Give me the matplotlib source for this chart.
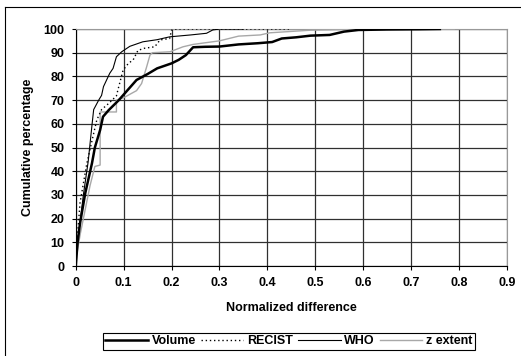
import matplotlib
matplotlib.use("Agg")
import matplotlib.pyplot as plt
from matplotlib.lines import Line2D

plt.rcParams['font.family'] = ['Liberation Sans', 'DejaVu Sans']
plt.rcParams['font.weight'] = 'bold'
plt.rcParams['font.size'] = 9

# cumulative curves
volume_x = [0, 0.002, 0.004, 0.009, 0.02, 0.034, 0.04, 0.051, 0.057, 0.069, 0.09, 0.103,
            0.127, 0.15, 0.17, 0.2, 0.215, 0.23, 0.245, 0.27, 0.3, 0.34, 0.38, 0.41,
            0.43, 0.46, 0.49, 0.53, 0.56, 0.59, 0.65, 0.72, 0.76]
volume_y = [0, 5, 10, 18, 30.8, 43.4, 50, 57.4, 63, 65.8, 70, 73,
            78.5, 81, 83.4, 85.5, 87, 89, 92.3, 92.5, 92.6, 93.5, 94, 94.5,
            96, 96.5, 97.2, 97.5, 98.9, 99.6, 99.8, 99.9, 100]

recist_x = [0, 0.002, 0.005, 0.009, 0.023, 0.033, 0.044, 0.054, 0.07, 0.085, 0.089, 0.099,
            0.11, 0.12, 0.13, 0.144, 0.165, 0.176, 0.196, 0.2, 0.21, 0.45]
recist_y = [0, 8, 16, 26.6, 43, 52, 61.6, 66, 68.8, 71.8, 75, 82.7,
            85.5, 87, 91, 91.9, 92.5, 95.4, 96, 99.5, 100, 100]

who_x = [0, 0.002, 0.005, 0.01, 0.016, 0.026, 0.034, 0.0375, 0.048, 0.054, 0.058, 0.071,
         0.078, 0.085, 0.096, 0.113, 0.14, 0.17, 0.196, 0.24, 0.273, 0.286, 0.3, 0.35]
who_y = [0, 6, 12, 20, 30, 44, 59.5, 66, 70, 72, 75.7, 81.3,
         83.4, 88.3, 90.4, 92.7, 94.6, 95.5, 96.7, 97.5, 98.2, 99.6, 100, 100]

zext_x = [0, 0.003, 0.01, 0.02, 0.03, 0.04, 0.051, 0.051, 0.085, 0.085, 0.1, 0.127, 0.1375,
          0.148, 0.155, 0.16, 0.197, 0.224, 0.245, 0.3, 0.34, 0.385, 0.405, 0.49, 0.59, 0.79]
zext_y = [0, 6, 14, 24, 34, 42, 42.6, 65, 65, 70, 71, 74, 77,
          84, 89, 90, 90.4, 92.5, 93.5, 95, 97, 97.5, 98.4, 99.5, 99.9, 100]

x_ticks = [0, 0.1, 0.2, 0.3, 0.4, 0.5, 0.6, 0.7, 0.8, 0.9]
x_labels = ['0', '0.1', '0.2', '0.3', '0.4', '0.5', '0.6', '0.7', '0.8', '0.9']
y_ticks = list(range(0, 101, 10))

fig = plt.figure(figsize=(5.21, 3.56), dpi=100)
ax = fig.add_axes([0.1453, 0.2528, 0.8277, 0.6657])

ax.plot(zext_x, zext_y, color='#a8a8a8', lw=1.0, label='z extent', zorder=3)
ax.plot(who_x, who_y, color='black', lw=0.8, label='WHO', zorder=4)
ax.plot(recist_x, recist_y, color='black', lw=1.0, ls=(0, (1, 2)), label='RECIST', zorder=5)
ax.plot(volume_x, volume_y, color='black', lw=1.8, label='Volume', zorder=6)

ax.set_xlim(0, 0.9)
ax.set_ylim(0, 100)
ax.set_xticks(x_ticks)
ax.set_xticklabels(x_labels, fontweight='bold')
ax.set_yticks(y_ticks)
ax.set_yticklabels([str(v) for v in y_ticks], fontweight='bold')
ax.grid(True, color='#303030', lw=0.9)
ax.set_axisbelow(True)
ax.tick_params(length=3, width=0.8, pad=5)
for s in ['top', 'right']:
    ax.spines[s].set_color('#999999')
for s in ['left', 'bottom']:
    ax.spines[s].set_color('black')

ax.set_xlabel('Normalized difference', fontweight='bold', labelpad=9)
ax.set_ylabel('Cumulative percentage', fontweight='bold', labelpad=7)

h, l = ax.get_legend_handles_labels()
order = [3, 2, 1, 0]
leg = fig.legend([h[i] for i in order], [l[i] for i in order], ncol=4,
                 loc='center', bbox_to_anchor=(289 / 521, 1 - 341.5 / 356),
                 frameon=True, fancybox=False, edgecolor='black', framealpha=1,
                 prop={'weight': 'bold', 'size': 9},
                 handlelength=3.4, handletextpad=0.3, columnspacing=0.4,
                 borderpad=0.2, borderaxespad=0)
leg.get_frame().set_linewidth(0.8)

# chart area border (cropped: only left and top visible)
fig.add_artist(Line2D([5 / 521, 5 / 521], [0, 1 - 7 / 356], color='black', lw=0.8))
fig.add_artist(Line2D([5 / 521, 1], [1 - 7 / 356, 1 - 7 / 356], color='black', lw=0.8))

fig.savefig('out.png', dpi=100)
